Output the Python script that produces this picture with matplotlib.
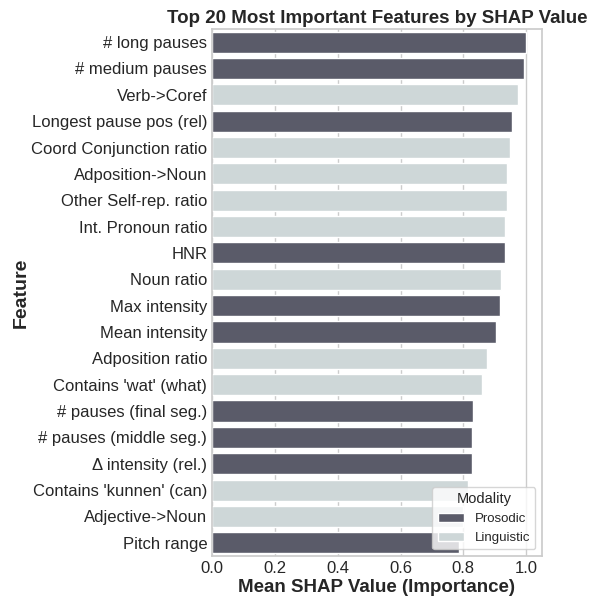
import numpy as np
import pandas as pd
import matplotlib
matplotlib.use("Agg")
import matplotlib.pyplot as plt
import seaborn as sns

# Feature importances
features = [
    "# long pauses", "# medium pauses", "Verb->Coref", "Longest pause pos (rel)",
    "Coord Conjunction ratio", "Adposition->Noun", "Other Self-rep. ratio",
    "Int. Pronoun ratio", "HNR", "Noun ratio", "Max intensity", "Mean intensity",
    "Adposition ratio", "Contains 'wat' (what)", "# pauses (final seg.)",
    "# pauses (middle seg.)", "\u0394 intensity (rel.)", "Contains 'kunnen' (can)",
    "Adjective->Noun", "Pitch range",
]
shap_values = [
    0.998, 0.994, 0.975, 0.955, 0.948, 0.940, 0.940, 0.934, 0.932, 0.920,
    0.918, 0.904, 0.874, 0.860, 0.831, 0.828, 0.826, 0.815, 0.800, 0.787,
]
modality = [
    "Prosodic", "Prosodic", "Linguistic", "Prosodic", "Linguistic", "Linguistic",
    "Linguistic", "Linguistic", "Prosodic", "Linguistic", "Prosodic", "Prosodic",
    "Linguistic", "Linguistic", "Prosodic", "Prosodic", "Prosodic", "Linguistic",
    "Linguistic", "Prosodic",
]
colors = {"Prosodic": "#57596c", "Linguistic": "#ccd8da"}

df = pd.DataFrame({"Feature": features, "SHAP": shap_values, "Modality": modality})

sns.set_theme(style="whitegrid")
plt.rcParams["font.family"] = ["Liberation Sans", "DejaVu Sans"]

fig, ax = plt.subplots(figsize=(5.89, 6.03), dpi=100)
sns.barplot(data=df, x="SHAP", y="Feature", hue="Modality", dodge=False,
            palette=colors, ax=ax)

ax.set_xlim(0, 1.05)
ax.set_title("Top 20 Most Important Features by SHAP Value",
             fontsize=13.5, fontweight="bold", pad=4)
ax.set_xlabel("Mean SHAP Value (Importance)", fontsize=13.5, fontweight="bold", labelpad=2)
ax.set_ylabel("Feature", fontsize=14, fontweight="bold", labelpad=1)
ax.tick_params(axis="both", labelsize=12, length=0, pad=3.5)
ax.legend(title="Modality", loc="lower right", fontsize=9.5, title_fontsize=10.5)

plt.subplots_adjust(left=0.36, right=0.92, top=0.952, bottom=0.078)
plt.savefig("out.png", dpi=100)
